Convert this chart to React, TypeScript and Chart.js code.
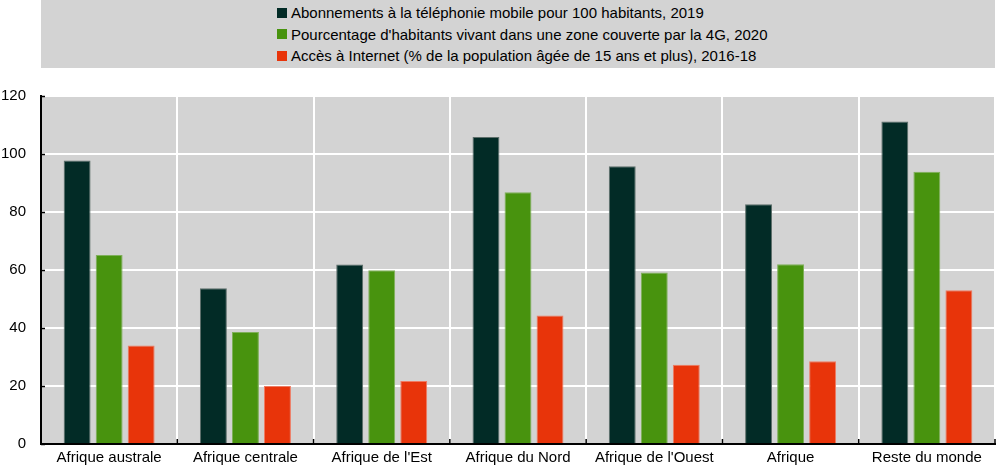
import React, { useEffect, useRef } from "react";
import { Chart, registerables } from "chart.js";

Chart.register(...registerables);

const categories = [
  "Afrique australe",
  "Afrique centrale",
  "Afrique de l'Est",
  "Afrique du Nord",
  "Afrique de l'Ouest",
  "Afrique",
  "Reste du monde",
];

const seriesLabels = [
  "Abonnements à la téléphonie mobile pour 100 habitants, 2019",
  "Pourcentage d'habitants vivant dans une zone couverte par la 4G, 2020",
  "Accès à Internet (% de la population âgée de 15 ans et plus), 2016-18",
];

const mobileSubscriptions = [97.8, 53.7, 61.9, 105.9, 95.8, 82.7, 111.2];
const coverage4G = [65.2, 38.6, 59.9, 86.8, 59.1, 62.0, 93.9];
const internetAccess = [34.0, 20.0, 21.7, 44.3, 27.3, 28.5, 53.0];

const yTicks = [0, 20, 40, 60, 80, 100, 120];

const colors = ["#022b26", "#48930e", "#e8340a"];
const borders = ["#5d6e6a", "#7fb05a", "#ef7b62"];

const FONT = "'Liberation Sans', Arial, Helvetica, sans-serif";

const decorPlugin = {
  id: "decor",
  beforeDraw(chart: any) {
    const { ctx, chartArea } = chart;
    const { left, top, right, bottom } = chartArea;
    ctx.save();
    ctx.fillStyle = "#d3d3d3";
    ctx.fillRect(left, top, right - left, bottom - top);
    ctx.restore();
  },
  afterDraw(chart: any) {
    const { ctx, chartArea } = chart;
    const y = chart.scales.y;
    const x = chart.scales.x;
    ctx.save();
    ctx.strokeStyle = "#000";
    ctx.lineWidth = 1.5;
    yTicks.forEach((v) => {
      const py = Math.round(y.getPixelForValue(v)) + 0.5;
      ctx.beginPath();
      ctx.moveTo(chartArea.left, py);
      ctx.lineTo(chartArea.left + 4, py);
      ctx.stroke();
    });
    const n = categories.length;
    for (let i = 1; i <= n; i++) {
      const px = x.left + (i * (x.right - x.left)) / n;
      ctx.beginPath();
      ctx.moveTo(px, chartArea.bottom);
      ctx.lineTo(px, chartArea.bottom - 5);
      ctx.stroke();
    }
    ctx.restore();
  },
};

export default function App() {
  const canvasRef = useRef<HTMLCanvasElement | null>(null);

  useEffect(() => {
    if (!canvasRef.current) return;
    const data = [mobileSubscriptions, coverage4G, internetAccess];
    const chart = new Chart(canvasRef.current, {
      type: "bar",
      data: {
        labels: categories,
        datasets: data.map((d, i) => ({
          label: seriesLabels[i],
          data: d,
          backgroundColor: colors[i],
          borderColor: borders[i],
          borderWidth: 1,
          categoryPercentage: 0.705,
          barPercentage: 0.84,
        })),
      },
      options: {
        responsive: false,
        animation: false,
        layout: { padding: { top: 96, right: 5, left: 0, bottom: 0 } },
        plugins: {
          legend: { display: false },
          tooltip: { enabled: false },
        },
        scales: {
          x: {
            grid: {
              offset: true,
              color: "#ffffff",
              lineWidth: 2,
              drawTicks: false,
            },
            border: { color: "#000", width: 2 },
            ticks: {
              color: "#000",
              font: { family: FONT, size: 15 },
              padding: 5,
              maxRotation: 0,
              autoSkip: false,
            },
            afterFit(scale: any) {
              scale.height = 25;
            },
          },
          y: {
            min: 0,
            max: 120,
            grid: { color: "#ffffff", lineWidth: 2, drawTicks: false },
            border: { color: "#000", width: 2 },
            ticks: {
              stepSize: 20,
              color: "#000",
              font: { family: FONT, size: 15 },
              padding: 15,
            },
            afterFit(scale: any) {
              scale.width = 41;
            },
          },
        },
      },
      plugins: [decorPlugin],
    });
    return () => chart.destroy();
  }, []);

  return (
    <div
      style={{
        position: "absolute",
        left: 0,
        top: 0,
        width: 1000,
        height: 469,
        background: "#fff",
        fontFamily: FONT,
      }}
    >
      <div
        style={{
          position: "absolute",
          left: 41,
          top: 0,
          width: 954,
          height: 68,
          background: "#d3d3d3",
        }}
      />
      <div style={{ position: "absolute", left: 277, top: 2 }}>
        {seriesLabels.map((lab, i) => (
          <div
            key={i}
            style={{
              display: "flex",
              alignItems: "center",
              height: 21.5,
              fontSize: 15,
              color: "#000",
              whiteSpace: "nowrap",
            }}
          >
            <span
              style={{
                display: "inline-block",
                width: 10,
                height: 10,
                background: colors[i],
                marginRight: 4,
              }}
            />
            <span>{lab}</span>
          </div>
        ))}
      </div>
      <canvas
        ref={canvasRef}
        width={1000}
        height={469}
        style={{ position: "absolute", left: 0, top: 0, display: "block" }}
      />
    </div>
  );
}
